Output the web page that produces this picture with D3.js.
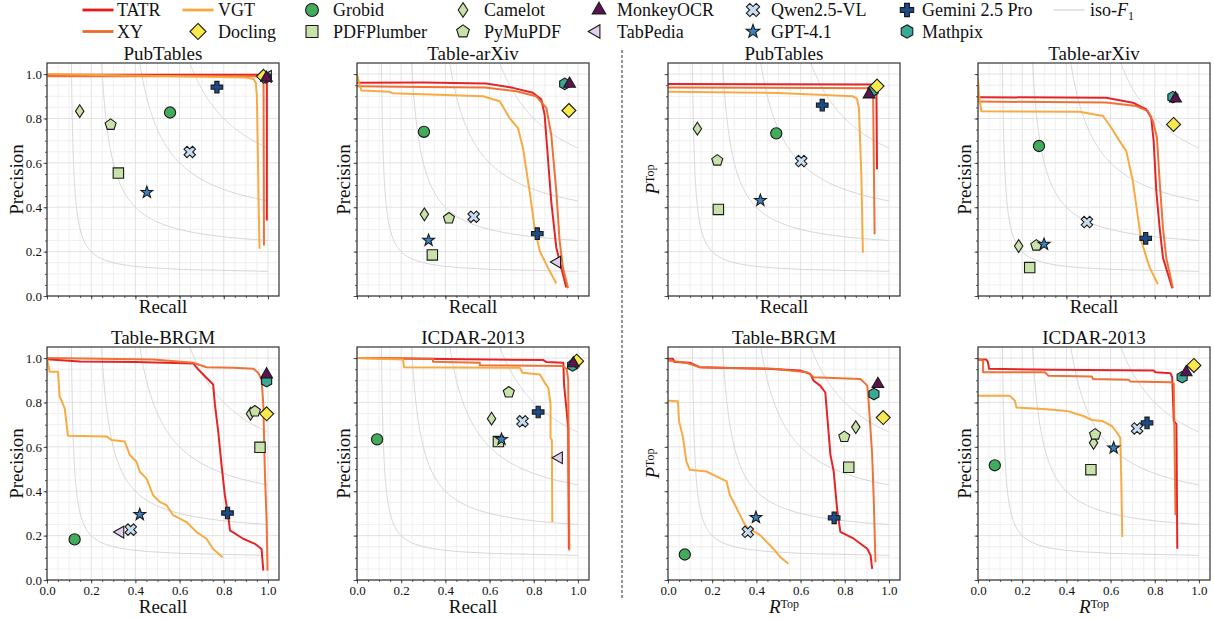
<!DOCTYPE html>
<html>
<head>
<script src="https://cdn.jsdelivr.net/npm/d3@7"></script>
<style>
  body { margin: 0; background: #fff; }
  svg text { font-family: "Liberation Serif", "DejaVu Serif", serif; fill: #111; }
</style>
</head>
<body>
<svg id="chart" width="1214" height="619"></svg>
<script>
// ---- data: [recall, precision] ----
var panelTitles = ["PubTables", "Table-arXiv", "PubTables", "Table-arXiv",
                   "Table-BRGM", "ICDAR-2013", "Table-BRGM", "ICDAR-2013"];
var xLabels = ["Recall", "Recall", "Recall", "Recall", "Recall", "Recall", "RTop", "RTop"];
var yLabels = ["Precision", "Precision", "PTop", "Precision", "Precision", "Precision", "PTop", "Precision"];
var tickValues = [0, 0.2, 0.4, 0.6, 0.8, 1.0];
var tickLabels = ["0.0", "0.2", "0.4", "0.6", "0.8", "1.0"];
var isoF1Levels = [0.2, 0.4, 0.6, 0.8];

var tatrCurves = [
  [[0,0.997],[0.5,0.997],[0.995,0.997],[0.995,0.34]],
  [[0,0.961],[0.3,0.962],[0.585,0.958],[0.706,0.938],[0.796,0.916],[0.834,0.886],[0.849,0.818],[0.864,0.623],[0.879,0.428],[0.902,0.218],[0.932,0.098],[0.947,0.038]],
  [[0,0.955],[0.943,0.953],[0.946,0.571]],
  [[0,0.896],[0.58,0.893],[0.701,0.871],[0.762,0.841],[0.784,0.803],[0.795,0.698],[0.807,0.473],[0.822,0.308],[0.837,0.173],[0.86,0.098],[0.879,0.035]],
  [[0,0.995],[0.148,0.985],[0.4,0.982],[0.662,0.976],[0.684,0.949],[0.707,0.926],[0.752,0.881],[0.76,0.79],[0.775,0.669],[0.79,0.518],[0.805,0.382],[0.82,0.292],[0.828,0.224],[0.888,0.186],[0.941,0.163],[0.971,0.14],[0.979,0.042]],
  [[0,1.0],[0.843,0.991],[0.858,0.982],[0.934,0.979],[0.937,0.881],[0.949,0.76],[0.956,0.684],[0.959,0.14]],
  [[0,0.997],[0.022,0.997],[0.03,0.982],[0.098,0.979],[0.144,0.959],[0.28,0.955],[0.447,0.952],[0.598,0.944],[0.644,0.929],[0.659,0.898],[0.689,0.876],[0.712,0.845],[0.72,0.747],[0.735,0.565],[0.75,0.489],[0.765,0.323],[0.78,0.217],[0.841,0.186],[0.902,0.141],[0.917,0.111],[0.924,0.05]],
  [[0,0.994],[0.038,0.994],[0.045,0.982],[0.05,0.952],[0.341,0.947],[0.795,0.944],[0.803,0.936],[0.871,0.932],[0.879,0.914],[0.886,0.717],[0.898,0.702],[0.902,0.141]]
];
var xyCurves = [
  [[0,0.99],[0.5,0.99],[0.98,0.99],[0.982,0.228]],
  [[0,0.945],[0.3,0.942],[0.58,0.94],[0.721,0.923],[0.811,0.9],[0.857,0.848],[0.879,0.728],[0.902,0.473],[0.917,0.248],[0.932,0.128],[0.955,0.035]],
  [[0,0.94],[0.928,0.936],[0.935,0.278]],
  [[0,0.876],[0.58,0.872],[0.716,0.856],[0.769,0.833],[0.792,0.788],[0.81,0.713],[0.822,0.518],[0.837,0.308],[0.852,0.173],[0.882,0.035]],
  [[0,1.0],[0.48,0.994],[0.662,0.979],[0.722,0.959],[0.843,0.956],[0.934,0.952],[0.956,0.934],[0.971,0.903],[0.979,0.79],[0.986,0.488],[0.994,0.261],[0.998,0.042]],
  [[0,1.0],[0.344,0.997],[0.344,0.983],[0.556,0.979],[0.556,0.968],[0.934,0.964],[0.949,0.949],[0.956,0.903],[0.961,0.133]],
  [[0,0.989],[0.083,0.979],[0.144,0.959],[0.28,0.955],[0.477,0.952],[0.629,0.936],[0.659,0.914],[0.871,0.906],[0.902,0.876],[0.909,0.792],[0.924,0.565],[0.932,0.338],[0.939,0.08]],
  [[0,0.994],[0.023,0.989],[0.023,0.936],[0.303,0.936],[0.318,0.921],[0.515,0.917],[0.52,0.906],[0.682,0.902],[0.69,0.894],[0.871,0.891],[0.886,0.885],[0.894,0.292]]
];
var vgtCurves = [
  [[0,1.0],[0.3,0.995],[0.6,0.99],[0.9,0.985],[0.935,0.978],[0.945,0.96],[0.95,0.9],[0.955,0.6],[0.958,0.4],[0.962,0.213]],
  [[0,1.0],[0.01,0.96],[0.02,0.926],[0.148,0.92],[0.16,0.914],[0.57,0.9],[0.646,0.878],[0.69,0.803],[0.728,0.758],[0.751,0.668],[0.781,0.473],[0.804,0.308],[0.827,0.203],[0.864,0.128],[0.902,0.056]],
  [[0,0.92],[0.5,0.915],[0.837,0.9],[0.855,0.89],[0.864,0.848],[0.875,0.548],[0.882,0.195]],
  [[0,0.98],[0.005,0.9],[0.015,0.833],[0.46,0.83],[0.566,0.811],[0.603,0.758],[0.641,0.698],[0.671,0.653],[0.701,0.518],[0.724,0.353],[0.739,0.248],[0.777,0.128],[0.814,0.053]],
  [[0,1.0],[0.012,0.938],[0.05,0.938],[0.057,0.828],[0.08,0.775],[0.095,0.65],[0.269,0.647],[0.292,0.631],[0.352,0.624],[0.375,0.563],[0.405,0.533],[0.42,0.488],[0.45,0.458],[0.48,0.382],[0.51,0.352],[0.541,0.337],[0.571,0.292],[0.631,0.261],[0.677,0.216],[0.722,0.186],[0.752,0.14],[0.795,0.103]],
  [[0,1.0],[0.208,0.994],[0.213,0.959],[0.737,0.956],[0.749,0.934],[0.828,0.926],[0.85,0.888],[0.866,0.866],[0.876,0.79],[0.876,0.639],[0.882,0.631],[0.884,0.261]],
  [[0,0.808],[0.045,0.805],[0.05,0.717],[0.068,0.641],[0.083,0.535],[0.098,0.497],[0.174,0.489],[0.205,0.474],[0.235,0.459],[0.265,0.444],[0.28,0.383],[0.311,0.323],[0.341,0.262],[0.356,0.239],[0.417,0.202],[0.477,0.141],[0.508,0.103],[0.545,0.073]],
  [[0,0.83],[0.144,0.83],[0.167,0.808],[0.174,0.777],[0.311,0.77],[0.402,0.762],[0.477,0.739],[0.515,0.721],[0.561,0.717],[0.606,0.694],[0.629,0.664],[0.644,0.641],[0.648,0.474],[0.653,0.194]]
];

// one point per panel (null = not shown)
var grobidPts     = [[0.557,0.827],[0.303,0.74],[0.49,0.733],[0.276,0.676],[0.125,0.183],[0.091,0.634],[0.076,0.115],[0.076,0.517]];
var pdfplumberPts = [[0.323,0.554],[0.341,0.185],[0.228,0.39],[0.234,0.128],[0.964,0.598],[0.64,0.624],[0.818,0.508],[0.511,0.497]];
var camelotPts    = [[0.148,0.833],[0.305,0.368],[0.133,0.754],[0.184,0.225],[0.921,0.749],[0.609,0.727],[0.85,0.689],[0.523,0.618]];
var pymupdfPts    = [[0.288,0.772],[0.416,0.35],[0.223,0.611],[0.264,0.228],[0.941,0.76],[0.687,0.846],[0.798,0.645],[0.53,0.656]];
var tabpediaPts   = [[1.0,0.99],[0.906,0.153],null,null,[0.332,0.216],[0.914,0.551],null,null];
var qwenPts       = [[0.646,0.649],[0.528,0.357],[0.603,0.608],[0.493,0.333],[0.379,0.227],[0.749,0.715],[0.361,0.217],[0.72,0.683]];
var gptPts        = [[0.452,0.467],[0.324,0.251],[0.418,0.431],[0.299,0.233],[0.42,0.295],[0.654,0.634],[0.398,0.282],[0.614,0.595]];
var geminiPts     = [[0.769,0.941],[0.816,0.281],[0.698,0.86],[0.759,0.26],[0.817,0.302],[0.82,0.757],[0.752,0.28],[0.765,0.708]];
var mathpixPts    = [[0.99,0.985],[0.94,0.956],[0.928,0.926],[0.882,0.896],[0.994,0.896],[0.976,0.967],[0.932,0.838],[0.924,0.914]];
var doclingPts    = [[0.98,0.99],[0.959,0.836],[0.946,0.946],[0.885,0.773],[0.994,0.749],[0.994,0.986],[0.974,0.732],[0.977,0.967]];
var monkeyPts     = [[0.993,0.983],[0.962,0.956],[0.91,0.908],[0.894,0.89],[0.994,0.926],[0.979,0.976],[0.95,0.883],[0.942,0.936]];

// ---- styles ----
var curveSeries = [
  { name: "TATR", color: "#e3191c", data: tatrCurves },
  { name: "XY",   color: "#ee6a2c", data: xyCurves },
  { name: "VGT",  color: "#f8a73a", data: vgtCurves }
];
var markerSeries = [
  { name: "Grobid",         shape: "circle",      fill: "#43ab5c", data: grobidPts },
  { name: "PDFPlumber",     shape: "square",      fill: "#c8e2a9", data: pdfplumberPts },
  { name: "Camelot",        shape: "thindiamond", fill: "#c8e2a9", data: camelotPts },
  { name: "PyMuPDF",        shape: "pentagon",    fill: "#c8e2a9", data: pymupdfPts },
  { name: "TabPedia",       shape: "triLeft",     fill: "#e2d1ea", data: tabpediaPts },
  { name: "Qwen2.5-VL",     shape: "x",           fill: "#c6dcf0", data: qwenPts },
  { name: "GPT-4.1",        shape: "star",        fill: "#3a82c6", data: gptPts },
  { name: "Gemini 2.5 Pro", shape: "plus",        fill: "#1d4b88", data: geminiPts },
  { name: "Mathpix",        shape: "hexagon",     fill: "#3aa894", data: mathpixPts },
  { name: "Docling",        shape: "diamond",     fill: "#f8e94c", data: doclingPts },
  { name: "MonkeyOCR",      shape: "triangle",    fill: "#5a1551", data: monkeyPts }
];
var styleOf = {};
curveSeries.forEach(function(s) { styleOf[s.name] = s; });
markerSeries.forEach(function(s) { styleOf[s.name] = s; });

function shapePath(shape, k) {
  k = k || 1;
  function poly(pts) {
    return "M" + pts.map(function(p) { return p[0].toFixed(2) + "," + p[1].toFixed(2); }).join("L") + "Z";
  }
  function ring(n, r, rot) {
    return d3.range(n).map(function(i) {
      var a = rot + i * 2 * Math.PI / n;
      return [r * Math.sin(a), -r * Math.cos(a)];
    });
  }
  function cross(a, t, rot) {
    var pts = [[-t,-a],[t,-a],[t,-t],[a,-t],[a,t],[t,t],[t,a],[-t,a],[-t,t],[-a,t],[-a,-t],[-t,-t]];
    var c = Math.cos(rot), s = Math.sin(rot);
    return pts.map(function(p) { return [p[0]*c - p[1]*s, p[0]*s + p[1]*c]; });
  }
  var r;
  switch (shape) {
    case "circle":
      r = 5.6 * k;
      return "M" + r + ",0A" + r + "," + r + " 0 1,1 " + (-r) + ",0A" + r + "," + r + " 0 1,1 " + r + ",0Z";
    case "square":
      r = 5.2 * k;
      return poly([[-r,-r],[r,-r],[r,r],[-r,r]]);
    case "diamond":
      r = 7 * k;
      return poly([[0,-r],[r,0],[0,r],[-r,0]]);
    case "thindiamond":
      return poly([[0,-6.4*k],[4.2*k,0],[0,6.4*k],[-4.2*k,0]]);
    case "pentagon":
      return poly(ring(5, 5.8 * k, 0));
    case "hexagon":
      return poly(ring(6, 5.8 * k, 0));
    case "triangle":
      return poly(ring(3, 6.8 * k, 0));
    case "triLeft":
      return poly(ring(3, 6.8 * k, -Math.PI / 2));
    case "star":
      return poly(d3.range(10).map(function(i) {
        var rr = (i % 2 === 0 ? 6.2 : 2.5) * k, a = i * Math.PI / 5;
        return [rr * Math.sin(a), -rr * Math.cos(a)];
      }));
    case "plus":
      return poly(cross(5.8 * k, 2.1 * k, 0));
    case "x":
      return poly(cross(6.0 * k, 2.1 * k, Math.PI / 4));
  }
}

// ---- layout ----
var svg = d3.select("#chart");
var panelW = 232, panelH = 233;
var colLeft = [47, 357, 668, 978];
var rowTop = [63, 347];

var x = d3.scaleLinear().domain([0, 1.05]).range([0, panelW]);
var y = d3.scaleLinear().domain([0, 1.05]).range([panelH, 0]);
var minorTicks = d3.range(0, 21).map(function(k) { return k * 0.05; });

var line = d3.line()
  .x(function(d) { return x(d[0]); })
  .y(function(d) { return y(d[1]); });

function addTopLabel(sel, label) {
  // "PTop" / "RTop": italic letter with upright superscript
  if (label === "PTop" || label === "RTop") {
    sel.append("tspan").style("font-style", "italic").text(label.charAt(0));
    sel.append("tspan").attr("dy", -5.5).style("font-size", "12px").text("Top");
  } else {
    sel.text(label);
  }
}

panelTitles.forEach(function(title, i) {
  var col = i % 4, row = Math.floor(i / 4);
  var g = svg.append("g").attr("transform", "translate(" + colLeft[col] + "," + rowTop[row] + ")");

  g.append("clipPath").attr("id", "clip" + i)
    .append("rect").attr("width", panelW).attr("height", panelH);

  // grid
  var grid = g.append("g");
  minorTicks.forEach(function(v) {
    var major = Math.abs(v * 5 - Math.round(v * 5)) < 1e-6;
    var c = major ? "#dcdcdc" : "#ececec";
    grid.append("line").attr("x1", x(v)).attr("x2", x(v)).attr("y1", 0).attr("y2", panelH)
      .attr("stroke", c).attr("stroke-width", 0.8);
    grid.append("line").attr("x1", 0).attr("x2", panelW).attr("y1", y(v)).attr("y2", y(v))
      .attr("stroke", c).attr("stroke-width", 0.8);
  });

  var plot = g.append("g").attr("clip-path", "url(#clip" + i + ")");

  // iso-F1 contours
  isoF1Levels.forEach(function(f) {
    var pts = d3.range(0, 121).map(function(k) {
      var p = 1.1 - k * (1.1 - f / (2 - f)) / 120;
      return [f * p / (2 * p - f), p];
    });
    plot.append("path").attr("d", line(pts))
      .attr("fill", "none").attr("stroke", "#d2d2d2").attr("stroke-width", 0.9);
  });

  // PR curves
  curveSeries.forEach(function(s) {
    plot.append("path").attr("d", line(s.data[i]))
      .attr("fill", "none").attr("stroke", s.color).attr("stroke-width", 2)
      .attr("stroke-linejoin", "round").attr("opacity", 0.95);
  });

  // point markers
  markerSeries.forEach(function(s) {
    var p = s.data[i];
    if (!p) return;
    g.append("path")
      .attr("d", shapePath(s.shape))
      .attr("transform", "translate(" + x(p[0]) + "," + y(p[1]) + ")")
      .attr("fill", s.fill).attr("stroke", "#1a1a1a").attr("stroke-width", 1.1);
  });

  // axes
  var showX = row === 1, showY = col === 0;
  var xMinor = g.append("g").attr("transform", "translate(0," + panelH + ")")
    .call(d3.axisBottom(x).tickValues(minorTicks).tickSize(2).tickFormat(""));
  var xMajor = g.append("g").attr("transform", "translate(0," + panelH + ")")
    .call(d3.axisBottom(x).tickValues(tickValues).tickSize(3.5).tickPadding(2)
      .tickFormat(function(d, k) { return showX ? tickLabels[k] : ""; }));
  var yMinor = g.append("g")
    .call(d3.axisLeft(y).tickValues(minorTicks).tickSize(2).tickFormat(""));
  var yMajor = g.append("g")
    .call(d3.axisLeft(y).tickValues(tickValues).tickSize(3.5).tickPadding(1.5)
      .tickFormat(function(d, k) { return showY ? tickLabels[k] : ""; }));
  [xMinor, xMajor, yMinor, yMajor].forEach(function(a) {
    a.attr("font-family", null).attr("font-size", null);
    a.select(".domain").remove();
    a.selectAll("line").attr("stroke", "#333").attr("stroke-width", 0.8);
    a.selectAll("text").style("font-size", "13px").attr("fill", "#222");
  });

  g.append("rect").attr("width", panelW).attr("height", panelH)
    .attr("fill", "none").attr("stroke", "#333").attr("stroke-width", 1.2);

  // titles and labels
  g.append("text").attr("x", panelW / 2).attr("y", -3.5)
    .attr("text-anchor", "middle").style("font-size", "19px").text(title);

  var xl = g.append("text").attr("x", panelW / 2).attr("y", panelH + (row === 1 ? 33 : 16.5))
    .attr("text-anchor", "middle").style("font-size", "19px");
  addTopLabel(xl, xLabels[i]);

  var yOff = col === 0 ? -24 : (yLabels[i] === "PTop" ? -9 : -7);
  var yl = g.append("text")
    .attr("transform", "translate(" + yOff + "," + (panelH / 2) + ") rotate(-90)")
    .attr("text-anchor", "middle").style("font-size", "19px");
  addTopLabel(yl, yLabels[i]);
});

// dashed divider between the two halves
svg.append("line").attr("x1", 622).attr("x2", 622).attr("y1", 50).attr("y2", 598)
  .attr("stroke", "#333").attr("stroke-width", 1).attr("stroke-dasharray", "3,2");

// ---- legend ----
var legendRowY = [10, 31.5];
var legendItems = [
  { name: "TATR", kind: "line", hx: 98, tx: 117, row: 0 },
  { name: "XY", kind: "line", hx: 98, tx: 117, row: 1 },
  { name: "VGT", kind: "line", hx: 198, tx: 218, row: 0 },
  { name: "Docling", hx: 198, tx: 218, row: 1 },
  { name: "Grobid", hx: 312, tx: 333, row: 0 },
  { name: "PDFPlumber", hx: 312, tx: 333, row: 1 },
  { name: "Camelot", hx: 463, tx: 484, row: 0 },
  { name: "PyMuPDF", hx: 463, tx: 484, row: 1 },
  { name: "MonkeyOCR", hx: 599, tx: 617, row: 0 },
  { name: "TabPedia", hx: 596, tx: 617, row: 1 },
  { name: "Qwen2.5-VL", hx: 753, tx: 771, row: 0 },
  { name: "GPT-4.1", hx: 753, tx: 771, row: 1 },
  { name: "Gemini 2.5 Pro", hx: 907, tx: 922, row: 0 },
  { name: "Mathpix", hx: 907, tx: 922, row: 1 },
  { name: "iso-F1", kind: "iso", hx: 1069, tx: 1090, row: 0 }
];
var legend = svg.append("g");
legendItems.forEach(function(it) {
  var cy = legendRowY[it.row];
  if (it.kind === "line" || it.kind === "iso") {
    legend.append("line").attr("x1", it.hx - 15.5).attr("x2", it.hx + 15.5).attr("y1", cy).attr("y2", cy)
      .attr("stroke", it.kind === "iso" ? "#d2d2d2" : styleOf[it.name].color)
      .attr("stroke-width", it.kind === "iso" ? 1.2 : 2.8);
  } else {
    var s = styleOf[it.name];
    legend.append("path").attr("d", shapePath(s.shape, 1.15))
      .attr("transform", "translate(" + it.hx + "," + cy + ")")
      .attr("fill", s.fill).attr("stroke", "#1a1a1a").attr("stroke-width", 1.1);
  }
  var t = legend.append("text").attr("x", it.tx).attr("y", cy + 6).style("font-size", "18px");
  if (it.kind === "iso") {
    t.append("tspan").text("iso-");
    t.append("tspan").style("font-style", "italic").text("F");
    t.append("tspan").attr("dy", 4).style("font-size", "12px").text("1");
  } else {
    t.text(it.name);
  }
});
</script>
</body>
</html>
